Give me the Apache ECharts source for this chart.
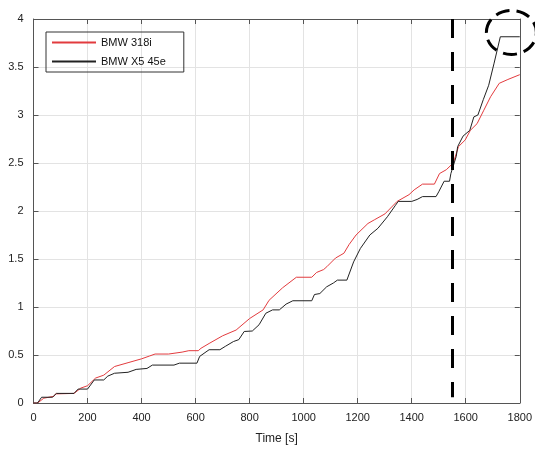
<!DOCTYPE html>
<html>
<head>
<meta charset="utf-8">
<script src="https://cdn.jsdelivr.net/npm/echarts@6/dist/echarts.min.js"></script>
<style>html,body{margin:0;padding:0;background:#fff}#c{width:535px;height:451px}</style>
</head>
<body>
<div id="c"></div>
<script>
const xTicks = [0, 200, 400, 600, 800, 1000, 1200, 1400, 1600, 1800];
const yTicks = [0, 0.5, 1, 1.5, 2, 2.5, 3, 3.5, 4];
const seriesNames = ['BMW 318i', 'BMW X5 45e'];

const time318 = [0, 12, 20, 38, 76, 82, 150, 175, 200, 230, 260, 300, 350, 400, 430, 450, 500, 550, 575, 610, 620, 650, 700, 750, 800, 850, 872, 922, 973, 1030, 1048, 1074, 1086, 1118, 1149, 1168, 1194, 1238, 1263, 1301, 1346, 1390, 1409, 1440, 1484, 1503, 1528, 1554, 1573, 1598, 1617, 1642, 1667, 1692, 1724, 1756, 1800];
const val318  = [0, 0, 0.01, 0.05, 0.07, 0.095, 0.10, 0.155, 0.18, 0.26, 0.29, 0.38, 0.42, 0.46, 0.49, 0.51, 0.51, 0.53, 0.545, 0.545, 0.57, 0.62, 0.70, 0.76, 0.88, 0.97, 1.07, 1.20, 1.31, 1.31, 1.36, 1.39, 1.42, 1.51, 1.56, 1.65, 1.75, 1.87, 1.91, 1.97, 2.10, 2.17, 2.22, 2.28, 2.28, 2.39, 2.43, 2.50, 2.67, 2.74, 2.84, 2.91, 3.05, 3.19, 3.33, 3.37, 3.42];

const timeX5 = [0, 15, 30, 70, 85, 150, 165, 200, 225, 260, 275, 300, 350, 380, 420, 440, 520, 540, 605, 615, 650, 690, 710, 740, 760, 780, 810, 835, 860, 885, 910, 935, 960, 1030, 1040, 1060, 1085, 1110, 1125, 1160, 1185, 1210, 1245, 1275, 1310, 1340, 1350, 1400, 1420, 1440, 1490, 1500, 1520, 1540, 1545, 1565, 1570, 1590, 1615, 1630, 1645, 1665, 1685, 1705, 1728, 1800];
const valX5  = [0, 0, 0.06, 0.06, 0.10, 0.10, 0.145, 0.145, 0.24, 0.24, 0.28, 0.31, 0.32, 0.35, 0.36, 0.395, 0.395, 0.415, 0.415, 0.485, 0.555, 0.555, 0.59, 0.64, 0.66, 0.745, 0.75, 0.815, 0.935, 0.97, 0.97, 1.03, 1.065, 1.065, 1.13, 1.14, 1.21, 1.25, 1.28, 1.28, 1.47, 1.61, 1.75, 1.82, 1.94, 2.06, 2.10, 2.10, 2.12, 2.15, 2.15, 2.20, 2.31, 2.31, 2.39, 2.57, 2.67, 2.78, 2.84, 2.98, 3.00, 3.16, 3.31, 3.54, 3.815, 3.815];

const markerTime = 1551;
const markerRange = [0.06, 4];
const circleCenter = [1769, 3.86];

const pairs = (t, v) => t.map((x, i) => [x, v[i]]);

const chart = echarts.init(document.getElementById('c'));
const axisColor = '#555';
const font = 'Liberation Sans, Arial, sans-serif';
const tickCommon = {show: true, inside: true, length: 5, lineStyle: {color: axisColor}};
chart.setOption({
  animation: false,
  grid: {left: 33.5, right: 14.7, top: 19, bottom: 48},
  legend: {
    orient: 'vertical', left: 46, top: 32,
    data: seriesNames,
    itemWidth: 44, itemHeight: 10, itemGap: 8,
    padding: [5, 18, 5, 5],
    borderColor: '#333', borderWidth: 1,
    itemStyle: {opacity: 0},
    textStyle: {fontFamily: font, fontSize: 11, color: '#111'}
  },
  xAxis: [{
    type: 'value', min: 0, max: 1800, interval: 200,
    name: 'Time [s]', nameLocation: 'middle', nameGap: 30,
    nameTextStyle: {fontFamily: font, fontSize: 12, color: '#222'},
    axisLine: {show: true, onZero: false, lineStyle: {color: axisColor}},
    axisTick: tickCommon,
    axisLabel: {fontFamily: font, fontSize: 11, color: '#222', margin: 9,
      formatter: v => xTicks.includes(v) ? String(v) : ''},
    splitLine: {show: true, lineStyle: {color: '#e3e3e3'}}
  }, {
    type: 'value', min: 0, max: 1800, interval: 200, position: 'top',
    axisLine: {show: true, onZero: false, lineStyle: {color: axisColor}},
    axisTick: tickCommon, axisLabel: {show: false}, splitLine: {show: false}
  }],
  yAxis: [{
    type: 'value', min: 0, max: 4, interval: 0.5,
    axisLine: {show: true, onZero: false, lineStyle: {color: axisColor}},
    axisTick: tickCommon,
    axisLabel: {fontFamily: font, fontSize: 11, color: '#222', margin: 10,
      formatter: v => yTicks.includes(v) ? String(v) : ''},
    splitLine: {show: true, lineStyle: {color: '#e3e3e3'}}
  }, {
    type: 'value', min: 0, max: 4, interval: 0.5, position: 'right',
    axisLine: {show: true, onZero: false, lineStyle: {color: axisColor}},
    axisTick: tickCommon, axisLabel: {show: false}, splitLine: {show: false}
  }],
  series: [{
    name: seriesNames[0], type: 'line', symbol: 'none',
    data: pairs(time318, val318),
    lineStyle: {color: '#e23b3e', width: 1}, itemStyle: {color: '#e23b3e'}
  }, {
    name: seriesNames[1], type: 'line', symbol: 'none',
    data: pairs(timeX5, valX5),
    lineStyle: {color: '#222', width: 1}, itemStyle: {color: '#222'},
    markLine: {
      silent: true, symbol: 'none', label: {show: false},
      lineStyle: {color: '#000', width: 3, type: [19, 14]},
      data: [[{coord: [markerTime, markerRange[1]]}, {coord: [markerTime, markerRange[0]]}]]
    }
  }]
});

const c = chart.convertToPixel({xAxisIndex: 0, yAxisIndex: 0}, circleCenter);
chart.setOption({
  graphic: [{
    type: 'ellipse', z: 100,
    shape: {cx: c[0], cy: c[1], rx: 25, ry: 22},
    style: {fill: 'none', stroke: '#000', lineWidth: 3, lineDash: [14, 7]}
  }]
});
</script>
</body>
</html>
